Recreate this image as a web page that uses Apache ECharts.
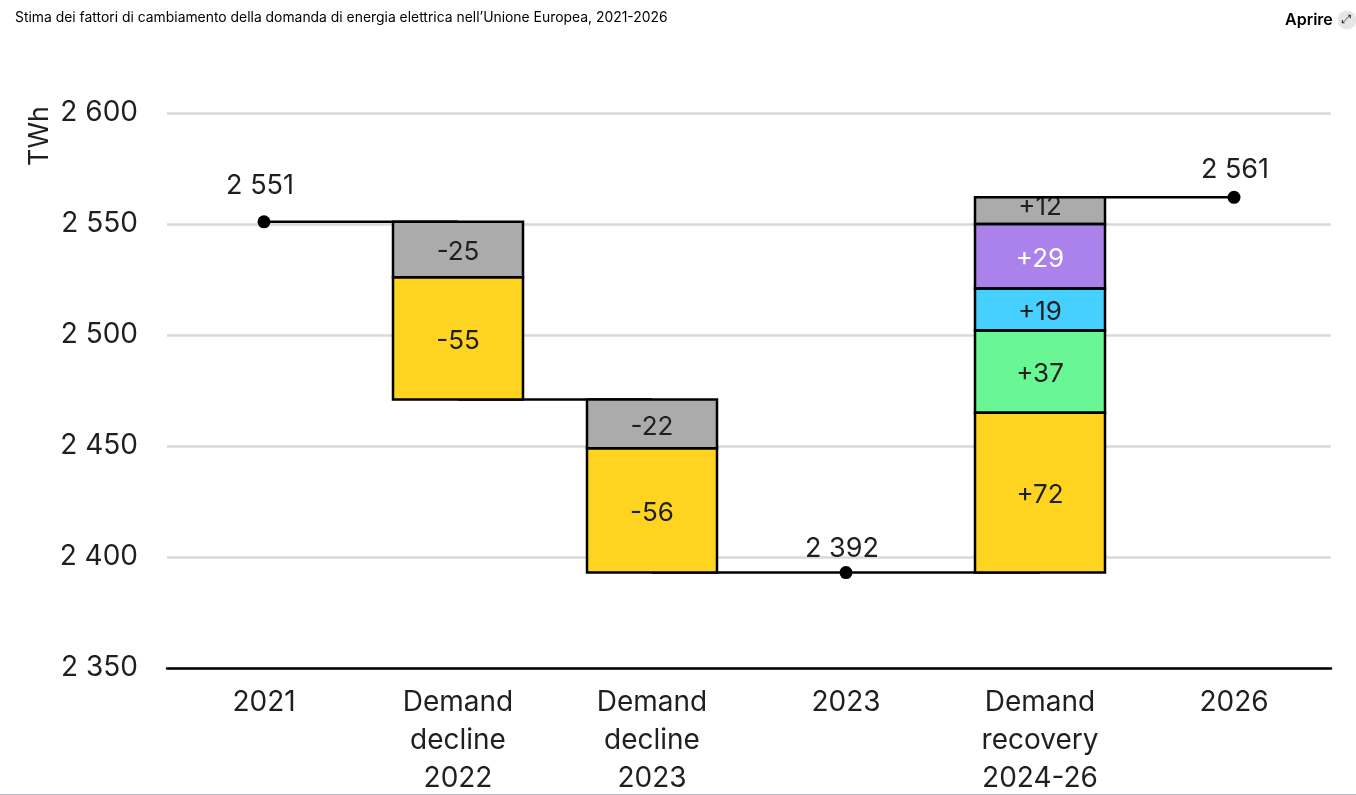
<!DOCTYPE html>
<html lang="it">
<head>
<meta charset="utf-8">
<title>Stima dei fattori di cambiamento della domanda di energia elettrica</title>
<script src="https://cdn.jsdelivr.net/npm/echarts@6/dist/echarts.min.js"></script>
<style>
html, body { margin: 0; padding: 0; background: #fff; }
#main { width: 1356px; height: 795px; }
</style>
</head>
<body>
<div id="main"></div>
<script>
var categories = ['2021', 'Demand\ndecline\n2022', 'Demand\ndecline\n2023', '2023', 'Demand\nrecovery\n2024-26', '2026'];
var signs = ['', '-', '-', '', '+', ''];

// stacked bars, bottom to top
var baseValues = [null, 2471, 2393, null, 2393, null];
var yellowValues = [null, 55, 56, null, 72, null];
var greenValues = [null, null, null, null, 37, null];
var blueValues = [null, null, null, null, 19, null];
var purpleValues = [null, null, null, null, 29, null];
var greyValues = [null, 25, 22, null, 12, null];

// totals: drawn position and printed label differ by rounding in the source
var pointValues = [2551, null, null, 2393, null, 2562];
var pointLabels = ['2 551', '', '', '2 392', '', '2 561'];

// connectors between the steps
var stepA = [2551, 2551, null, null, null, null];
var stepB = [null, 2471, 2471, null, null, null];
var stepC = [null, null, 2393, 2393, 2393, null];
var stepD = [null, null, null, null, 2562, 2562];

var font = 'Inter';
var ink = '#1f1f1f';
var barW = 130;

// the source places each total label by hand
var pointLabelOffset = { 0: [-4, -6], 3: [-4, 6], 5: [1, 3] };

// segments for the outlines: bar series inset their own border, which doubles it at the seams
var outlineSegments = [];
categories.forEach(function (c, i) {
    if (baseValues[i] === null) return;
    var low = baseValues[i];
    [yellowValues, greenValues, blueValues, purpleValues, greyValues].forEach(function (s) {
        if (s[i] === null) return;
        outlineSegments.push([i, low, low + s[i]]);
        low += s[i];
    });
});

function barSeries(name, values, color, labelColor) {
    return {
        name: name,
        type: 'bar',
        stack: 'total',
        barWidth: barW,
        z: 3,
        data: values,
        itemStyle: { color: color },
        label: {
            show: true,
            position: 'inside',
            offset: [0, 3],
            fontFamily: font,
            fontSize: 26,
            color: labelColor,
            formatter: function (p) { return signs[p.dataIndex] + p.value; }
        }
    };
}

function stepSeries(values) {
    return {
        type: 'line',
        data: values,
        symbol: 'none',
        silent: true,
        z: 2,
        lineStyle: { color: '#000', width: 2.5 }
    };
}

var greySeries = barSeries('grey', greyValues.map(function (v, i) {
    // +12 sits high in its thin box
    return i === 4 ? { value: v, label: { offset: [0, -3] } } : v;
}), '#ababab', ink);

var chart = echarts.init(document.getElementById('main'));
chart.setOption({
    animation: false,
    backgroundColor: '#fff',
    grid: { left: 167, right: 25, top: 113, bottom: 127, outerBoundsMode: 'none' },
    xAxis: {
        type: 'category',
        data: categories,
        axisTick: { show: false },
        axisLine: { lineStyle: { color: '#000', width: 2.5 } },
        axisLabel: { fontFamily: font, fontSize: 28, color: ink, lineHeight: 38, margin: 16, interval: 0 }
    },
    yAxis: {
        type: 'value',
        min: 2350,
        max: 2600,
        interval: 50,
        axisLine: { show: false },
        axisTick: { show: false },
        splitLine: { lineStyle: { color: '#d9d9d9', width: 2.5 } },
        axisLabel: {
            fontFamily: font,
            fontSize: 28,
            color: ink,
            margin: 29,
            formatter: function (v) { return String(v).charAt(0) + ' ' + String(v).slice(1); }
        }
    },
    series: [
        stepSeries(stepA),
        stepSeries(stepB),
        stepSeries(stepC),
        stepSeries(stepD),
        {
            type: 'bar',
            stack: 'total',
            barWidth: barW,
            silent: true,
            data: baseValues,
            itemStyle: { color: 'transparent' }
        },
        barSeries('yellow', yellowValues, '#ffd420', ink),
        barSeries('green', greenValues, '#69f795', ink),
        barSeries('blue', blueValues, '#45d0ff', ink),
        barSeries('purple', purpleValues, '#ab82eb', '#fff'),
        greySeries,
        {
            type: 'custom',
            silent: true,
            z: 4,
            data: outlineSegments,
            renderItem: function (params, api) {
                var bottom = api.coord([api.value(0), api.value(1)]);
                var top = api.coord([api.value(0), api.value(2)]);
                return {
                    type: 'rect',
                    shape: { x: bottom[0] - barW / 2, y: top[1], width: barW, height: bottom[1] - top[1] },
                    style: { fill: 'none', stroke: '#000', lineWidth: 2.5 }
                };
            }
        },
        {
            type: 'scatter',
            data: pointValues.map(function (v, i) {
                return { value: v, label: { offset: pointLabelOffset[i] || [0, 0] } };
            }),
            symbolSize: 13,
            z: 5,
            itemStyle: { color: '#000', opacity: 1 },
            label: {
                show: true,
                position: 'top',
                distance: 10,
                fontFamily: font,
                fontSize: 27,
                color: ink,
                formatter: function (p) { return pointLabels[p.dataIndex]; }
            }
        }
    ],
    graphic: [
        { type: 'text', left: 15, top: 11, style: { text: 'Stima dei fattori di cambiamento della domanda di energia elettrica nell\u2019Unione Europea, 2021-2026', fontFamily: font, fontSize: 13.9, fill: '#000' } },
        { type: 'text', left: 1285, top: 12, style: { text: 'Aprire', fontFamily: font, fontSize: 16, fontWeight: 600, fill: '#000' } },
        { type: 'circle', shape: { cx: 1347, cy: 20, r: 9.5 }, style: { fill: '#e6e6e6' } },
        { type: 'text', x: 1347, y: 20, style: { text: '\u2922', fontFamily: 'DejaVu Sans', fontSize: 12, fill: '#222', align: 'center', verticalAlign: 'middle' } },
        { type: 'text', x: 40, y: 136, rotation: Math.PI / 2, style: { text: 'TWh', fontFamily: font, fontSize: 27, fill: ink, align: 'center', verticalAlign: 'middle' } },
        { type: 'rect', shape: { x: 0, y: 794, width: 1356, height: 1 }, style: { fill: '#b8bcc0' } }
    ]
});
</script>
</body>
</html>
